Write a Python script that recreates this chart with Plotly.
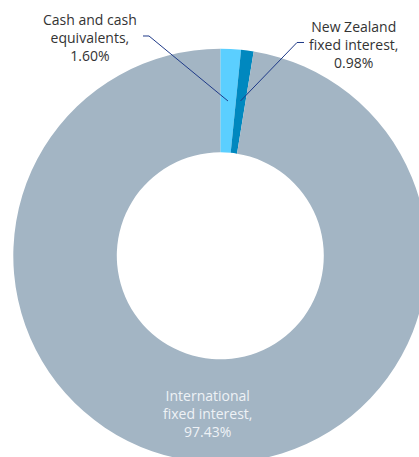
import plotly.graph_objects as go

labels = ["Cash and cash equivalents", "New Zealand fixed interest", "International fixed interest"]
label_lines = ["Cash and cash<br>equivalents,", "New Zealand<br>fixed interest,", "International<br>fixed interest,"]
values = [1.60, 0.98, 97.43]
colors = ["#5BCFFF", "#0088BF", "#A3B5C4"]

W, H = 430, 466
cx, cy, R = 220.3, 255.8, 207.0  # pixel centre / radius

fig = go.Figure(go.Pie(
    labels=labels, values=values, sort=False, direction="clockwise", rotation=0,
    hole=0.5, marker=dict(colors=colors, line=dict(width=0)),
    textinfo="none",
    domain=dict(x=[(cx - R) / W, (cx + R) / W], y=[(H - cy - R) / H, (H - cy + R) / H]),
    showlegend=False, hoverinfo="label+value",
))

line_col = "#1F3A88"
label_pos = [(90, 38), (353, 45), (207, 413)]
label_cols = ["#333333", "#333333", "#EEF2F6"]
ann = []
for (px, py), txt, val, col in zip(label_pos, label_lines, values, label_cols):
    ann.append(dict(x=px / W, y=1 - py / H, xref="paper", yref="paper", showarrow=False,
                    xanchor="center", yanchor="middle",
                    text=f"{txt}<br>{val:.2f}%", align="center",
                    font=dict(family="Open Sans", size=14, color=col)))

def leader(pts):
    path = "M " + " L ".join(f"{x / W:.5f},{1 - y / H:.5f}" for x, y in pts)
    return dict(type="path", path=path, xref="paper", yref="paper",
                line=dict(color=line_col, width=1))

shapes = [leader([(143, 36), (149, 36), (228, 101)]),
          leader([(304, 42.5), (297, 42.5), (240.5, 101)])]

fig.update_layout(width=W, height=H, margin=dict(l=0, r=0, t=0, b=0),
                  paper_bgcolor="white", plot_bgcolor="white",
                  annotations=ann, shapes=shapes)

fig.write_html("out.html", config={"displayModeBar": False},
               post_script="document.body.style.margin='0';document.body.style.overflow='hidden';document.documentElement.style.overflow='hidden';")
